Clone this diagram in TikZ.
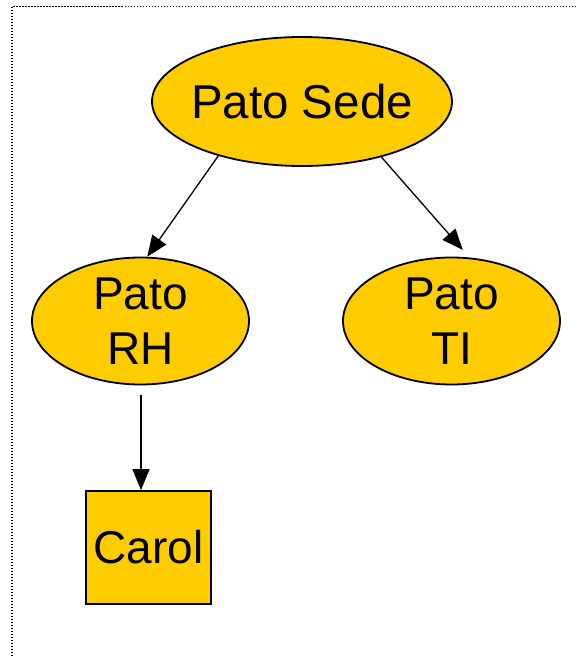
\documentclass[tikz,border=0pt]{standalone}
\usepackage{fontspec}
\setmainfont{Liberation Sans}
\usetikzlibrary{arrows.meta,shapes.geometric}
\definecolor{duckgold}{HTML}{FFCC00}
\begin{document}
\begin{tikzpicture}[x=1pt,y=-1pt,
  duck/.style={ellipse,draw=black,line width=1.8pt,fill=duckgold,inner sep=0pt,
    font=\fontsize{46}{56}\selectfont,align=center},
  leaf/.style={rectangle,draw=black,line width=1.8pt,fill=duckgold,inner sep=0pt,
    font=\fontsize{46}{56}\selectfont},
  link/.style={draw=black,line width=1.3pt,-{Triangle[length=21pt,width=17pt]}}]
  \useasboundingbox (0,0) rectangle (576,656);
  % dotted frame along the top and left sides
  \draw[line width=1.8pt,dash pattern=on 1.5pt off 1.5pt] (576,6.5) -- (12,6.5) -- (12,656);
  % nodes
  \node[duck,minimum width=300pt,minimum height=129pt,font=\fontsize{47.5}{56}\selectfont] (sede) at (302,101.5) {\makebox[0pt]{Pato Sede}};
  \node[duck,minimum width=217pt,minimum height=127pt] (rh) at (140.5,321) {Pato\\[-1pt]RH};
  \node[duck,minimum width=217pt,minimum height=127pt] (ti) at (451.5,321) {Pato\\[-1pt]TI};
  \node[leaf,minimum width=125pt,minimum height=113pt] (carol) at (148.5,547.5) {Carol};
  % connectors
  \draw[link] (sede.213) -- (rh.84);
  \draw[link] (sede.325) -- ([yshift=7pt]ti.80);
  \draw[link] ([yshift=-10pt,xshift=-7.5pt]rh.south -| carol.north) -- ([xshift=-7.5pt]carol.north);
\end{tikzpicture}
\end{document}
